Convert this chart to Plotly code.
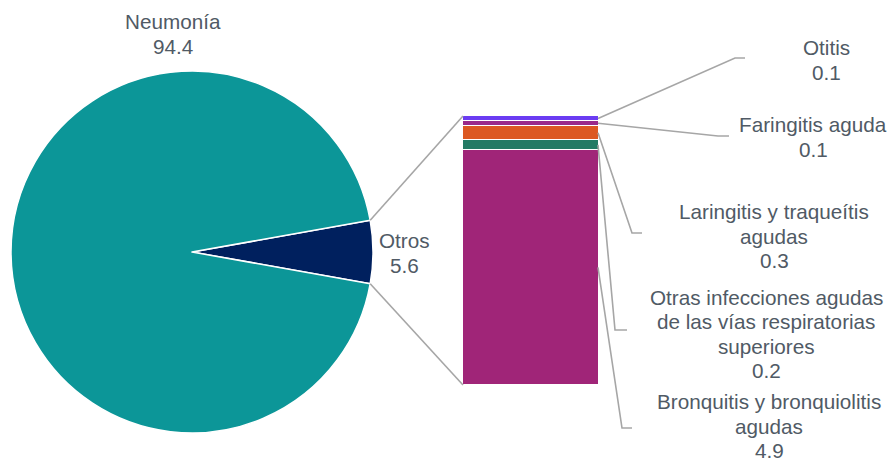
import math
import plotly.graph_objects as go

# ---- data ----
pie_labels = ["Otros", "Neumonía"]
pie_values = [5.6, 94.4]
pie_colors = ["#00205E", "#0C9698"]

bar_labels = [
    "Bronquitis y bronquiolitis<br>agudas",
    "Otras infecciones agudas<br>de las vías respiratorias<br>superiores",
    "Laringitis y traqueítis<br>agudas",
    "Faringitis aguda",
    "Otitis",
]
bar_values = [4.9, 0.2, 0.3, 0.1, 0.1]
bar_colors = ["#A02578", "#237A64", "#DC5822", "#9A2A8A", "#6B3CF2"]

# ---- layout constants (pixels) ----
W, H = 894, 462
FONT = "Liberation Sans, Arial, sans-serif"
FSIZE = 20.7
LSP = 24.3
TXT = "#505A65"
LINE = "#A6A6A6"

def px(x):
    return x / W

def py(y):
    return 1 - y / H

pie_cx, pie_cy, pie_r = 192, 252, 181
bar_x0, bar_x1, bar_top, bar_bot = 463, 599, 116, 385

# label centres and leader elbows for bar segments (same order as bar_labels)
bar_label_pos = [(769, 426), (766, 334), (774, 236), (813, 137), (826, 60)]
bar_elbows = [((622, 428), (632, 428)), ((615, 330), (627, 330)),
              ((632, 233), (642, 233)), ((718, 136), (729, 136)),
              ((735, 58), (745, 58))]
pie_label_pos = [(404, 253), (173, 34)]

fig = go.Figure()

total_pie = sum(pie_values)
rot = 90 - pie_values[0] / total_pie * 360 / 2
fig.add_trace(go.Pie(
    labels=pie_labels, values=pie_values, sort=False, direction="clockwise",
    rotation=rot, textinfo="none", hoverinfo="label+value",
    marker=dict(colors=pie_colors, line=dict(color="white", width=1.5)),
    domain=dict(x=[px(pie_cx - pie_r), px(pie_cx + pie_r)],
                y=[py(pie_cy + pie_r), py(pie_cy - pie_r)]),
    showlegend=False,
))

for lab, val, col in zip(bar_labels, bar_values, bar_colors):
    fig.add_trace(go.Bar(
        x=[0], y=[val], name=lab.replace("<br>", " "), width=1,
        marker=dict(color=col, line=dict(color="white", width=1.5)),
        showlegend=False, hoverinfo="y+name",
    ))

total_bar = sum(bar_values)
shapes = []
annotations = []


def add_label(text, cx, cy):
    lines = text.split("<br>")
    n = len(lines)
    for k, ln in enumerate(lines):
        y = cy + (k - (n - 1) / 2) * LSP
        annotations.append(dict(xref="paper", yref="paper", x=px(cx), y=py(y),
                                xanchor="center", yanchor="middle", showarrow=False,
                                text=ln, align="center", borderpad=0,
                                font=dict(family=FONT, size=FSIZE, color=TXT)))


# connectors pie -> bar
half = math.radians(pie_values[0] / total_pie * 360 / 2)
ex = pie_cx + pie_r * math.cos(half)
ey_top = pie_cy - pie_r * math.sin(half)
ey_bot = pie_cy + pie_r * math.sin(half)
for (sx, sy), (tx, ty) in [((ex, ey_top), (bar_x0, bar_top)), ((ex, ey_bot), (bar_x0, bar_bot))]:
    shapes.append(dict(type="line", xref="paper", yref="paper",
                       x0=px(sx), y0=py(sy), x1=px(tx), y1=py(ty),
                       line=dict(color=LINE, width=1.6)))

# leader lines from bar segments
cum = 0
for i, v in enumerate(bar_values):
    mid = cum + v / 2
    cum += v
    sy = bar_bot - (bar_bot - bar_top) * mid / total_bar
    (e1x, e1y), (e2x, e2y) = bar_elbows[i]
    path = f"M {px(bar_x1 - 1)} {py(sy)} L {px(e1x)} {py(e1y)} L {px(e2x)} {py(e2y)}"
    shapes.append(dict(type="path", xref="paper", yref="paper", path=path,
                       line=dict(color=LINE, width=1.6)))
    lx, ly = bar_label_pos[i]
    add_label(f"{bar_labels[i]}<br>{v}", lx, ly)

for lab, val, (lx, ly) in zip(pie_labels, pie_values, pie_label_pos):
    add_label(f"{lab}<br>{val}", lx, ly)

fig.update_layout(
    width=W, height=H, margin=dict(l=0, r=0, t=0, b=0),
    paper_bgcolor="white", plot_bgcolor="rgba(0,0,0,0)",
    barmode="stack", bargap=0,
    xaxis=dict(domain=[px(bar_x0), px(bar_x1)], range=[-0.5, 0.5], visible=False, fixedrange=True),
    yaxis=dict(domain=[py(bar_bot), py(bar_top)], range=[0, total_bar], visible=False, fixedrange=True),
    shapes=shapes, annotations=annotations,
    font=dict(family=FONT, color=TXT),
)

fig.write_html("out.html", config={"displayModeBar": False},
               post_script="document.body.style.margin='0';document.body.style.padding='0';")
